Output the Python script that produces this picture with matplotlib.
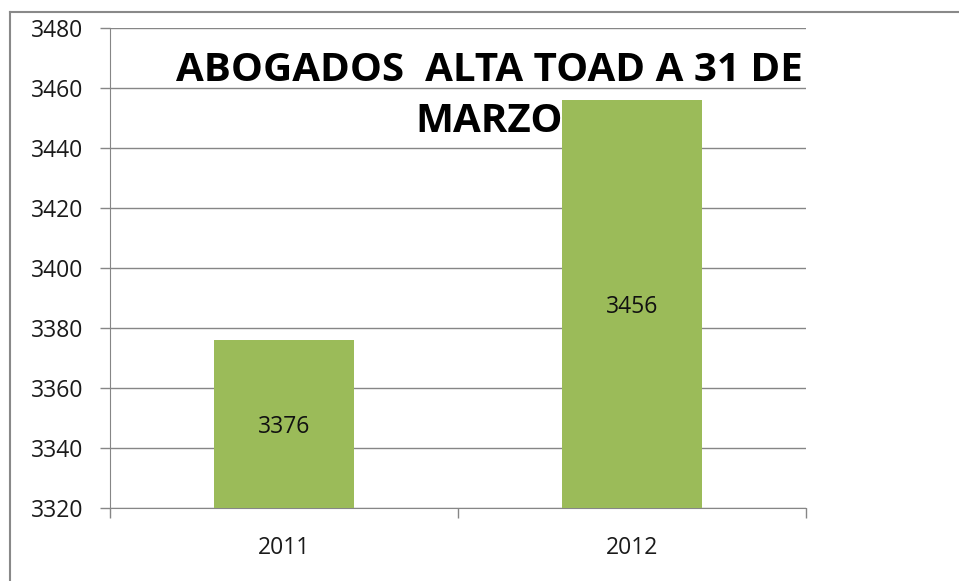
import matplotlib.pyplot as plt
from matplotlib.lines import Line2D

years = ["2011", "2012"]
abogados = [3376, 3456]
y_ticks = [3320, 3340, 3360, 3380, 3400, 3420, 3440, 3460, 3480]

W, H = 959, 581
fig = plt.figure(figsize=(W / 100, H / 100), dpi=100)
ax = fig.add_axes([110 / W, (H - 508) / H, (806 - 110) / W, (508 - 28) / H])

gris = "#868686"
x = list(range(len(years)))
bars = ax.bar(x, [v - y_ticks[0] for v in abogados], bottom=y_ticks[0],
              width=0.4, color="#9BBB59", zorder=3)

for xi, v in zip(x, abogados):
    ax.text(xi, (v + y_ticks[0]) / 2 - 1, str(v), ha="center", va="center",
            fontsize=16.5, color="#111111", family="Open Sans", zorder=4)

ax.set_xlim(-0.5, len(years) - 0.5)
ax.set_ylim(y_ticks[0], y_ticks[-1])
ax.set_yticks(y_ticks)
ax.set_xticks(x)
ax.set_xticklabels(years)
ax.set_xticks([-0.5, 0.5, 1.5], minor=True)
ax.tick_params(axis="x", which="major", length=0, pad=20)
ax.tick_params(axis="x", which="minor", length=7, color=gris, width=1)
ax.tick_params(axis="y", length=7, color=gris, width=1, pad=12)
for lab in ax.get_xticklabels() + ax.get_yticklabels():
    lab.set_family("Open Sans")
    lab.set_fontsize(16.5)
    lab.set_color("#1a1a1a")

ax.grid(axis="y", color=gris, linewidth=1, zorder=0)
ax.spines["top"].set_visible(False)
ax.spines["right"].set_visible(False)
ax.spines["left"].set_color(gris)
ax.spines["bottom"].set_color(gris)

fig.text(489 / W, 1 - 96 / H, "ABOGADOS  ALTA TOAD A 31 DE\nMARZO",
         ha="center", va="center", fontsize=29, fontweight="bold",
         family="Open Sans", linespacing=1.42, zorder=5)

# borde del grafico
fig.add_artist(Line2D([10 / W, 1], [1 - 12 / H, 1 - 12 / H], color="#898989", lw=1.5))
fig.add_artist(Line2D([10 / W, 10 / W], [0, 1 - 12 / H], color="#898989", lw=1.5))

fig.savefig("out.png", dpi=100)
